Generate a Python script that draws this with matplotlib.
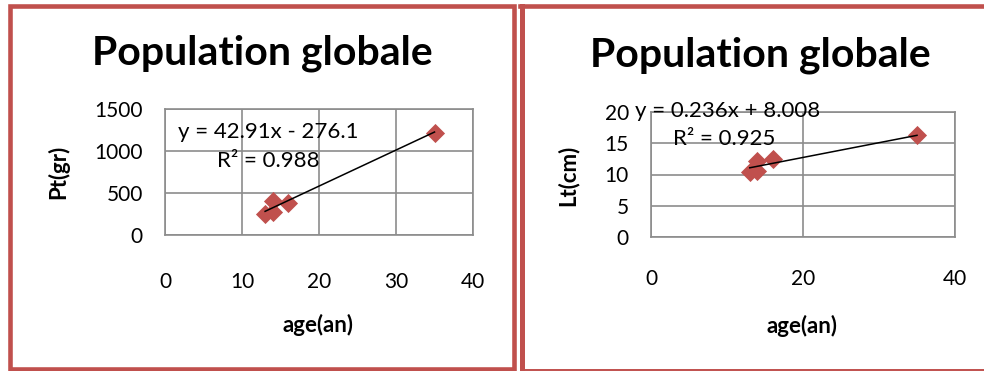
import numpy as np
import matplotlib.pyplot as plt
from matplotlib.patches import Rectangle
from matplotlib.lines import Line2D

plt.rcParams['font.family'] = ['Lato', 'DejaVu Sans']

# age (years) against weight and length of the sampled fish
age = [13, 14, 14, 16, 35]
poids = [250, 270, 405, 377, 1218]
longueur = [10.4, 10.6, 12.2, 12.5, 16.3]

# linear trend lines as printed on the charts
pt_slope, pt_inter, pt_r2 = 42.91, -276.1, 0.988
lt_slope, lt_inter, lt_r2 = 0.236, 8.008, 0.925

W, H = 984, 371
red = '#C0504D'
grid_col = '#8C8C8C'

fig = plt.figure(figsize=(W / 100, H / 100), dpi=100)


def px_axes(x0, y0, x1, y1):
    # pixel box (top-left origin) -> figure axes
    return fig.add_axes([x0 / W, (H - y1) / H, (x1 - x0) / W, (y1 - y0) / H])


def fx(x):
    return x / W


def fy(y):
    return (H - y) / H


def scatter_panel(ax, x, y, slope, inter, r2, ylim, yticks, xticks, xpad,
                  ylabel, ylab_pos, xlab_pos, eq, eq_pos, r2_pos):
    ax.scatter(x, y, marker='D', s=95, color=red, zorder=3, linewidths=0)
    xs = np.array([min(x), max(x)])
    ax.plot(xs, slope * xs + inter, color='black', lw=1.1, zorder=4)
    ax.set_xlim(0, 40)
    ax.set_ylim(*ylim)
    ax.set_xticks(xticks)
    ax.set_yticks(yticks)
    ax.grid(True, color=grid_col, lw=1.2)
    ax.set_axisbelow(True)
    for s in ax.spines.values():
        s.set_color(grid_col)
        s.set_linewidth(1.2)
    ax.tick_params(length=0, labelsize=15)
    ax.tick_params(axis='y', pad=16)
    ax.tick_params(axis='x', pad=xpad)
    fig.text(fx(ylab_pos[0]), fy(ylab_pos[1]), ylabel, fontsize=16, fontweight='bold',
             rotation=90, ha='center', va='center')
    fig.text(fx(xlab_pos[0]), fy(xlab_pos[1]), 'age(an)', fontsize=16, fontweight='bold',
             ha='center', va='center')
    fig.text(fx(eq_pos[0]), fy(eq_pos[1]), eq, fontsize=16, ha='center', va='center')
    fig.text(fx(r2_pos[0]), fy(r2_pos[1]), 'R² = %.3f' % r2, fontsize=16, ha='center', va='center')


ax1 = px_axes(165, 109, 473, 235)
scatter_panel(ax1, age, poids, pt_slope, pt_inter, pt_r2, (0, 1500), [0, 500, 1000, 1500],
              [0, 10, 20, 30, 40], 27, 'Pt(gr)', (58, 172), (318, 325),
              'y = 42.91x - 276.1', (268, 132), (268, 161))
fig.text(fx(262), fy(53), 'Population globale', fontsize=29.5, fontweight='bold',
         ha='center', va='center')

ax2 = px_axes(651, 112, 955, 237)
scatter_panel(ax2, age, longueur, lt_slope, lt_inter, lt_r2, (0, 20), [0, 5, 10, 15, 20],
              [0, 20, 40], 23, 'Lt(cm)', (568, 175), (802, 326),
              'y = 0.236x + 8.008', (728, 111), (724, 139))
fig.text(fx(760), fy(55), 'Population globale', fontsize=29.5, fontweight='bold',
         ha='center', va='center')

# chart frames
fig.patches.append(Rectangle((fx(10.2), fy(368.5)), fx(513.8) - fx(10.2), fy(6) - fy(368.5),
                             transform=fig.transFigure, fill=False, ec=red, lw=3.3))
for xs, ys, lw in [([521.8, 521.8], [6, 371], 3.6),
                   ([519.5, 984], [6, 6], 3.3),
                   ([521.8, 984], [369.8, 369.8], 1.4)]:
    fig.lines.append(Line2D([fx(v) for v in xs], [fy(v) for v in ys],
                            transform=fig.transFigure, color=red, lw=lw))

fig.savefig('out.png', dpi=100)
